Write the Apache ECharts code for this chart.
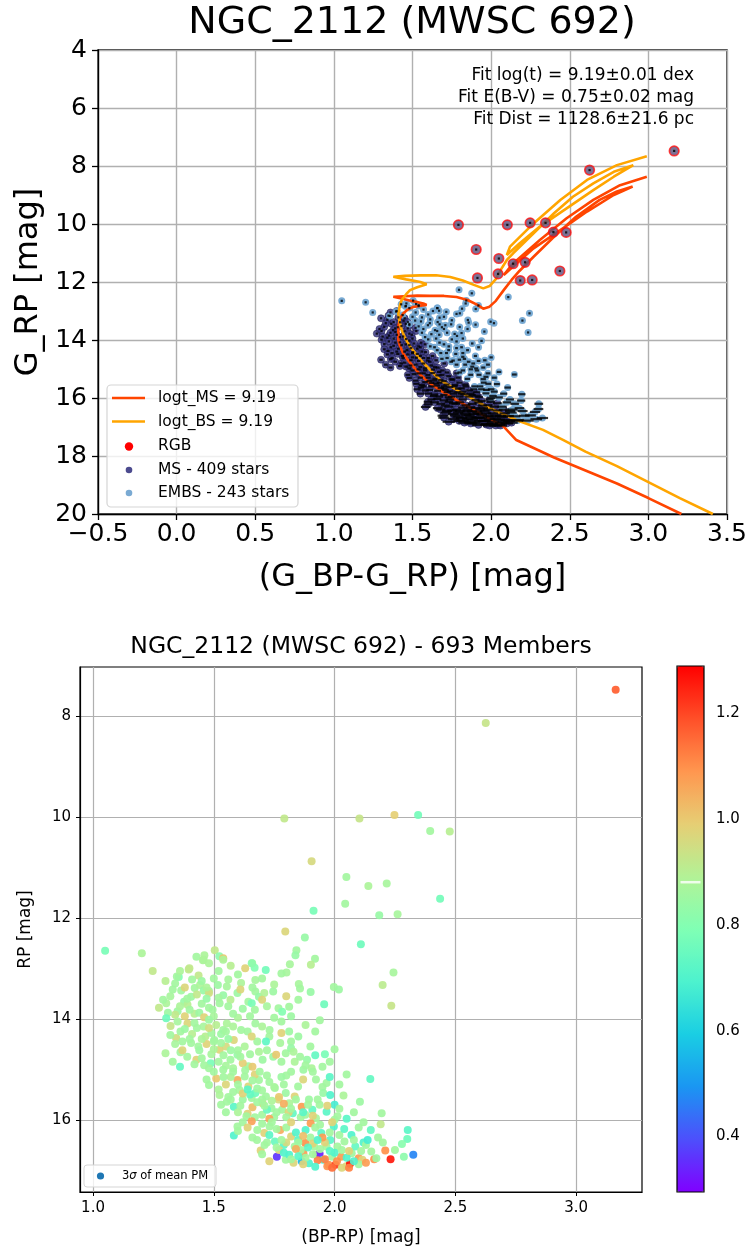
<!DOCTYPE html>
<html>
<head>
<meta charset="utf-8">
<script src="https://cdn.jsdelivr.net/npm/echarts@6/dist/echarts.min.js"></script>
<style>
  html, body { margin: 0; padding: 0; background: #fff; }
  #chart { width: 752px; height: 1255px; }
</style>
</head>
<body>
<div id="chart"></div>
<script>
// ---------------- data ----------------
const clusterName = 'NGC_2112 (MWSC 692)';
const memberCount = 693;
const fitLines = [
  'Fit log(t) = 9.19\u00b10.01 dex',
  'Fit E(B-V) = 0.75\u00b10.02 mag',
  'Fit Dist = 1128.6\u00b121.6 pc'
];
const legendLabels = ['logt_MS = 9.19', 'logt_BS = 9.19', 'RGB', 'MS - 409 stars', 'EMBS - 243 stars'];
const pmLegendLabel = '3{i|\u03c3} of mean PM';

const bottomXTicks = [1.0, 1.5, 2.0, 2.5, 3.0];
const bottomYTicks = [8, 10, 12, 14, 16];
const colorbarTicks = [0.4, 0.6, 0.8, 1.0, 1.2];
const colorbarMark = 0.881;

// single-star isochrone (colour, RP magnitude)
const isoMS = [
  [3.21,20.0],[3.0,19.45],[2.8,18.95],[2.6,18.5],[2.4,18.05],[2.26,17.7],[2.16,17.45],[2.08,16.99],
  [1.93,16.53],[1.78,16.07],[1.69,15.78],[1.61,15.49],[1.55,15.2],[1.505,14.92],[1.465,14.65],[1.44,14.46],
  [1.42,14.2],[1.41,14.0],[1.41,13.54],[1.42,13.25],[1.442,13.08],[1.47,12.95],[1.505,12.86],[1.55,12.82],
  [1.59,12.79],[1.569,12.74],[1.50,12.66],[1.43,12.57],[1.378,12.51],[1.45,12.49],[1.53,12.47],[1.61,12.48],
  [1.70,12.48],[1.78,12.52],[1.85,12.62],[1.91,12.78],[1.95,12.92],[1.99,12.85],[2.03,12.65],[2.08,12.28],
  [2.13,11.93],[2.18,11.62],[2.27,11.13],[2.40,10.44],[2.54,9.75],[2.69,9.17],[2.80,8.88],[2.90,8.71],
  [2.78,9.0],[2.61,9.57],[2.44,10.21],[2.27,10.84],[2.14,11.47],[2.08,11.76],[2.14,11.36],[2.31,10.55],
  [2.48,9.80],[2.65,9.17],[2.82,8.66],[2.99,8.37]
];
// equal-mass binary sequence
const isoBS = [
  [3.41,20.0],[3.2,19.45],[3.0,18.9],[2.8,18.35],[2.6,17.85],[2.46,17.45],[2.33,17.10],[2.16,16.76],
  [1.97,16.30],[1.82,15.84],[1.675,15.38],[1.57,14.80],[1.484,14.23],[1.45,13.9],[1.431,13.65],[1.415,13.3],
  [1.41,13.08],[1.42,12.8],[1.431,12.62],[1.46,12.42],[1.484,12.28],[1.53,12.18],[1.59,12.08],[1.55,12.0],
  [1.46,11.91],[1.378,11.82],[1.45,11.79],[1.55,11.77],[1.65,11.77],[1.74,11.83],[1.82,11.95],[1.89,12.10],
  [1.95,12.22],[1.99,12.14],[2.03,11.90],[2.06,11.59],[2.10,11.24],[2.14,11.01],[2.27,10.32],[2.40,9.63],
  [2.52,9.06],[2.65,8.60],[2.78,8.20],[2.904,7.97],[2.78,8.37],[2.65,8.83],[2.48,9.46],[2.31,10.09],
  [2.18,10.67],[2.10,11.07],[2.12,10.78],[2.27,9.98],[2.44,9.17],[2.61,8.48],[2.80,7.97],[2.99,7.66]
];

// stars: [BP-RP, RP, colour-scale value]
const rgbStars = [
  [3.164,7.48,1.17],[2.626,8.14,0.93],[1.792,10.03,0.92],[2.103,10.03,0.93],[2.248,9.96,0.99],[2.346,9.96,0.77],
  [2.396,10.28,0.86],[2.477,10.29,0.90],[1.905,10.88,0.96],[2.049,11.19,0.86],[2.140,11.37,0.88],[2.216,11.32,0.87],
  [2.437,11.62,0.77],[2.044,11.72,0.86],[1.913,11.86,0.78],[2.185,11.95,0.84],[2.261,11.93,0.87]
];
const msStars = [
  [1.347,13.16,0.86],[1.399,13.00,0.92],[1.273,13.78,0.92],[1.303,13.69,0.88],[1.365,13.44,0.86],[1.377,13.66,0.84],
  [1.391,13.72,0.90],[1.406,13.56,0.85],[1.421,13.39,0.86],[1.443,13.33,0.88],[1.458,13.44,0.84],[1.480,13.49,0.95],
  [1.495,13.82,0.86],[1.524,13.69,0.86],[1.32,13.55,0.87],[1.35,13.85,0.85],[1.42,13.90,0.90],[1.45,13.70,0.86],
  [1.38,13.95,0.98],[1.47,13.60,0.84],[1.50,13.95,0.87],[1.34,13.30,0.86],[1.43,13.52,0.92],[1.40,13.82,0.86],
  [1.36,13.05,0.88],[1.41,13.22,0.86],[1.38,13.38,0.97],[1.45,13.25,0.85],[1.33,13.42,0.86],[1.47,13.38,0.88],
  [1.30,13.25,0.90],[1.29,13.62,0.86],[1.36,13.75,0.88],[1.44,13.88,0.85],[1.48,13.78,0.86],[1.34,13.92,0.92],
  [1.39,13.60,0.86],[1.52,13.58,0.86],[1.31,13.88,0.85],[1.46,13.97,0.98],
  [1.303,13.99,0.76],[1.321,14.14,0.93],[1.344,14.38,0.95],[1.362,14.25,0.86],[1.300,14.68,0.88],[1.362,14.66,0.86],
  [1.391,14.09,0.97],[1.406,14.48,0.86],[1.428,14.81,0.98],[1.436,14.55,0.86],[1.458,14.15,0.87],[1.465,14.35,0.90],
  [1.480,14.02,0.85],[1.487,14.88,0.78],[1.502,14.42,0.86],[1.524,14.61,0.98],[1.539,14.22,0.86],[1.554,14.09,0.88],
  [1.569,14.81,0.86],[1.583,14.42,0.97],[1.598,14.71,0.84],[1.628,14.55,0.88],[1.643,14.94,0.86],[1.702,14.81,0.85],
  [1.37,14.45,0.86],[1.41,14.30,0.90],[1.44,14.62,0.85],[1.47,14.50,0.98],[1.39,14.75,0.86],[1.49,14.70,0.87],
  [1.52,14.85,0.86],[1.55,14.55,0.96],[1.46,14.92,0.86],[1.53,14.30,0.85],[1.58,14.98,0.87],[1.62,14.88,0.99],
  [1.35,14.05,0.87],[1.43,14.18,0.86],[1.51,14.12,0.90],[1.56,14.40,0.84],[1.60,14.62,0.86],[1.49,14.28,0.86],
  [1.32,14.32,0.86],[1.38,14.20,0.85],[1.45,14.40,0.88],[1.50,14.45,0.86],[1.34,14.50,0.87],[1.42,14.08,0.86],
  [1.48,14.18,0.95],[1.55,14.25,0.86],[1.58,14.15,0.88],[1.40,14.40,0.86],[1.53,14.48,0.86],
  [1.33,14.85,0.86],[1.37,14.62,0.97],[1.42,14.90,0.86],[1.45,14.78,0.86],[1.50,14.60,0.88],[1.54,14.72,0.86],
  [1.57,14.62,0.85],[1.61,14.75,0.86],[1.48,14.98,0.86],[1.55,14.93,0.87],[1.65,14.70,0.86],[1.66,14.95,1.00],
  [1.36,14.95,0.74],
  [1.480,15.31,0.86],[1.510,15.18,1.00],[1.524,15.51,0.88],[1.539,15.01,0.86],[1.554,15.64,0.86],[1.583,15.74,0.72],
  [1.598,15.21,1.05],[1.606,15.41,0.87],[1.628,15.14,0.86],[1.643,15.34,0.97],[1.657,15.57,0.86],[1.672,15.47,0.76],
  [1.687,15.21,0.86],[1.702,15.67,0.98],[1.716,15.54,0.86],[1.739,15.77,0.85],[1.753,15.37,0.86],[1.768,15.60,0.96],
  [1.783,15.80,0.86],[1.798,15.47,0.85],[1.812,15.67,0.88],[1.827,15.87,0.74],[1.835,15.54,0.98],[1.864,15.74,1.08],
  [1.879,15.90,0.86],[1.908,15.80,0.74],[1.923,15.97,0.87],[1.50,15.05,0.86],[1.55,15.30,0.97],[1.58,15.45,0.86],
  [1.62,15.60,0.85],[1.66,15.75,1.02],[1.70,15.90,0.86],[1.63,15.02,0.86],[1.68,15.38,0.85],[1.72,15.80,0.75],
  [1.75,15.95,0.86],[1.77,15.55,1.00],[1.60,15.85,0.88],[1.53,15.70,0.86],[1.67,15.10,0.98],[1.73,15.25,0.86],
  [1.81,15.85,0.97],[1.86,15.95,0.86],[1.78,15.15,0.85],[1.65,15.50,0.74],[1.70,15.60,0.86],[1.57,15.15,0.88],
  [1.47,15.20,0.86],[1.52,15.40,0.88],[1.56,15.55,0.86],[1.60,15.30,0.86],[1.62,15.48,0.98],[1.66,15.22,0.86],
  [1.70,15.42,0.86],[1.72,15.12,0.86],[1.58,15.05,0.86],[1.75,15.35,0.87],[1.64,15.40,0.72],[1.54,15.15,0.86],
  [1.69,15.05,0.86],[1.79,15.30,0.86],
  [1.57,15.60,0.86],[1.61,15.72,0.86],[1.64,15.88,0.98],[1.68,15.65,0.86],[1.71,15.72,0.86],[1.74,15.62,0.88],
  [1.76,15.85,0.86],[1.79,15.68,1.05],[1.82,15.78,0.86],[1.84,15.60,0.86],[1.87,15.85,0.72],[1.89,15.70,0.86],
  [1.91,15.92,0.98],[1.67,15.95,0.86],[1.73,15.98,1.06],[1.80,15.95,0.86],[1.55,15.85,0.86],
  [1.583,16.31,0.70],[1.598,16.13,0.86],[1.635,15.93,0.86],[1.657,16.03,1.07],[1.679,16.40,0.86],[1.694,16.61,0.98],
  [1.709,16.26,0.98],[1.731,16.13,0.86],[1.753,16.43,0.75],[1.761,16.73,0.36],[1.775,16.20,1.05],[1.790,16.50,0.72],
  [1.798,16.79,0.86],[1.812,16.69,0.70],[1.820,16.33,0.98],[1.835,16.53,0.86],[1.849,16.40,0.72],[1.864,16.82,0.55],
  [1.871,16.66,1.08],[1.879,16.46,1.10],[1.894,16.86,0.70],[1.901,16.07,1.08],[1.916,16.53,0.86],[1.923,16.69,0.98],
  [1.938,16.67,0.33],[1.945,16.26,0.72],[1.953,16.79,0.68],[1.967,16.53,0.86],[1.975,16.89,1.10],[1.982,16.40,0.72],
  [1.990,16.73,0.86],[1.997,16.13,0.70],[2.004,16.89,1.22],[2.012,16.53,0.86],[2.027,16.73,1.08],[2.041,16.43,0.86],
  [2.049,16.92,0.98],[2.064,16.87,1.27],[2.071,16.66,0.86],[2.086,16.53,0.74],[2.100,16.76,1.08],[2.115,16.79,0.98],
  [1.62,16.05,0.86],[1.68,16.20,0.86],[1.72,16.45,0.86],[1.77,16.60,0.98],[1.80,16.15,0.86],[1.84,16.25,0.70],
  [1.86,16.60,0.86],[1.90,16.35,0.86],[1.93,16.80,1.12],[1.96,16.45,0.98],[2.00,16.65,0.70],[2.02,16.30,0.86],
  [2.05,16.75,0.70],[1.88,16.75,0.86],[1.83,16.85,0.97],[1.97,16.92,1.10],[1.92,16.15,0.86],[1.74,16.05,0.86],
  [2.08,16.40,0.86],[2.10,16.88,0.86],[1.99,16.05,0.98],[1.80,16.45,0.96],[2.03,16.95,0.97],
  [1.60,16.22,0.86],[1.64,16.15,0.98],[1.66,16.35,0.86],[1.70,16.08,0.86],[1.73,16.30,0.72],[1.76,16.18,0.86],
  [1.78,16.40,0.86],[1.82,16.05,0.98],[1.85,16.45,0.86],[1.88,16.20,0.70],[1.91,16.47,0.98],[1.94,16.10,0.86],
  [1.95,16.35,1.08],[1.98,16.25,0.86],[2.04,16.18,0.72],[1.87,16.32,1.02],[1.71,16.50,0.86],[1.93,16.40,0.70],
  [1.70,16.68,0.86],[1.73,16.82,0.98],[1.76,16.55,0.86],[1.79,16.65,0.70],[1.82,16.78,0.86],[1.84,16.58,1.05],
  [1.87,16.88,0.98],[1.89,16.55,0.72],[1.91,16.68,0.86],[1.94,16.58,0.86],[1.96,16.78,1.12],[1.98,16.62,0.72],
  [2.01,16.82,1.10],[2.03,16.60,0.86],[2.06,16.62,0.98],[2.08,16.82,0.70],[2.11,16.62,0.86],[2.13,16.85,1.08],
  [1.99,16.95,1.15],[1.92,16.93,0.70],[2.06,16.95,1.12],[1.85,16.72,0.72]
];
const embsStars = [
  [1.796,12.27,0.97],[1.877,12.39,0.84],[2.109,12.52,0.76],[1.050,12.65,0.78],[1.202,12.70,0.88],[1.842,12.64,0.86],
  [1.838,12.74,0.84],[1.919,12.81,0.86],[1.504,12.64,0.92],[1.428,12.77,0.86],[1.461,12.74,0.88],[1.455,12.84,0.88],
  [1.523,12.76,0.82],[1.539,12.80,1.00],[1.659,12.90,0.86],[1.669,12.99,0.80],[1.715,13.03,0.77],[1.815,12.92,0.87],
  [1.902,12.93,0.90],[1.801,13.08,0.87],[1.247,13.05,0.92],[1.396,13.02,0.92],[1.355,13.17,0.80],[1.437,13.14,0.92],
  [2.244,13.08,0.87],[2.199,13.33,0.91],[2.235,13.74,0.93],[1.957,13.71,0.76],[1.997,13.37,0.86],[2.018,13.42,0.85],
  [1.852,13.31,0.87],[1.857,13.40,0.86],[1.901,13.47,0.84],[1.939,14.03,0.86],[2.000,14.60,0.86],[1.960,14.70,0.78],
  [2.148,15.19,0.74],[2.105,15.64,0.85],[2.195,15.87,0.86],[2.191,16.09,0.92],[2.303,16.20,0.72],[2.301,16.38,0.76],
  [2.279,16.48,0.81],[2.287,16.73,0.82],[2.326,16.69,0.47],[2.232,16.78,1.26],[2.210,16.61,1.10],[2.164,16.78,1.10],
  [2.173,16.76,0.85],
  [1.458,12.83,0.88],[1.539,12.83,0.88],[1.657,12.90,0.82],[1.672,13.23,0.87],[1.517,13.33,0.85],[1.539,13.53,0.84],
  [1.554,13.36,0.87],[1.569,13.62,0.90],[1.598,13.49,0.85],[1.613,13.29,0.88],[1.643,13.66,0.86],[1.657,13.69,0.78],
  [1.672,13.46,0.86],[1.687,13.56,0.84],[1.709,13.49,0.89],[1.746,13.46,0.85],[1.768,13.79,0.86],[1.783,13.86,0.80],
  [1.812,13.76,0.86],
  [1.48,12.90,0.88],[1.52,13.05,0.86],[1.57,12.95,0.90],[1.60,13.12,0.86],[1.63,13.00,0.98],[1.50,13.20,0.86],
  [1.56,13.22,0.87],[1.70,13.20,0.86],[1.75,13.32,0.88],[1.66,13.38,0.86],[1.48,13.45,0.86],[1.61,13.42,0.97],
  [1.78,13.10,0.86],
  [1.56,13.75,0.86],[1.60,13.98,0.88],[1.67,13.82,0.86],[1.70,13.62,0.97],[1.75,13.98,0.86],[1.82,13.95,0.85],
  [1.85,13.62,0.86],[1.88,14.12,0.88],[1.64,14.25,0.86],[1.73,14.35,0.86],[1.78,14.28,0.98],[1.82,14.45,0.86],
  [1.68,14.45,0.86],[1.92,14.25,0.86],[1.58,13.90,0.86],
  [1.613,14.22,0.86],[1.657,14.35,0.97],[1.672,14.09,0.86],[1.687,14.65,0.88],[1.716,14.45,0.73],[1.731,14.22,0.86],
  [1.746,14.75,0.85],[1.758,14.71,1.00],[1.775,14.48,0.87],[1.798,14.68,0.86],[1.812,14.25,0.85],[1.820,14.58,0.84],
  [1.835,14.85,0.88],[1.857,14.75,0.86],[1.871,15.01,0.85],[1.886,14.81,0.84],[1.905,14.98,0.88],
  [1.72,14.62,0.86],[1.78,14.85,0.86],[1.83,14.65,0.88],[1.88,14.92,0.86],[1.92,14.72,0.74],[1.82,15.05,0.86],
  [1.87,15.20,0.97],[1.91,15.05,0.86],[1.95,15.35,0.86],[1.80,15.12,0.86],[2.02,15.30,0.86],[1.98,14.85,0.86],
  [1.849,15.34,0.86],[1.894,15.60,0.85],[1.938,15.70,0.86],[1.953,15.47,0.84],[1.967,15.84,0.72],[1.982,15.51,0.70],
  [2.000,15.70,0.68],[2.012,15.93,0.86],[2.037,15.52,0.88],[1.923,15.20,0.86],[1.967,15.27,0.86],
  [1.93,15.60,0.86],[1.97,15.72,0.98],[2.02,15.78,0.86],[2.05,15.98,0.72],[2.10,16.15,0.86],[2.07,16.30,0.70],
  [2.00,16.00,0.86],[2.18,16.35,0.86],[2.12,16.45,0.70],
  [2.130,16.50,0.86],[2.137,16.40,0.68],[2.152,16.63,0.86],
  [1.65,13.95,0.86],[1.72,13.75,0.87],[1.78,14.05,0.86],[1.85,14.35,0.85],[1.90,14.55,0.86],[1.70,14.15,0.88],
  [1.95,14.95,0.86],[1.62,13.80,0.85],[1.80,13.55,0.97],[2.05,15.10,0.86],[1.98,15.15,0.72],[2.08,15.85,0.86],
  [2.12,16.05,0.86],[2.15,16.20,0.74],[2.20,16.45,0.86],[2.25,16.60,0.86]
];

// ---------------- styling ----------------
const FONT = 'DejaVu Sans';
const GRID_COLOR = '#b0b0b0';
const C_MS_LINE = '#ff4500';
const C_BS_LINE = '#ffa500';
const C_RGB = '#ff1010';
const C_MS = '#3b3984';
const C_EMBS = '#72a6d2';
const RAINBOW = ['#8000ff','#4d4ffc','#1a96f2','#1acee3','#4df2ce','#80ffb4','#b3f296','#e6ce74','#ff964f','#ff4f28','#ff0000'];

const allStars = rgbStars.concat(embsStars, msStars);
const fmtMinus = v => (v < 0 ? '\u2212' : '') + Math.abs(v).toFixed(1);

const chart = echarts.init(document.getElementById('chart'), null, { renderer: 'canvas' });

const txt = (text, x, y, size, align, extra) => ({
  type: 'text', x: x, y: y, z: 100,
  style: Object.assign({ text: text, fontSize: size, fontFamily: FONT, fill: '#000',
    align: align || 'left', verticalAlign: 'middle' }, extra || {})
});

const option = {
  backgroundColor: '#fff',
  animation: false,
  textStyle: { fontFamily: FONT, color: '#000' },
  grid: [
    { left: 98, top: 50, width: 629, height: 464, show: true, borderColor: '#000', borderWidth: 1.3, backgroundColor: 'rgba(0,0,0,0)' },
    { left: 80, top: 667, width: 562, height: 525, show: true, borderColor: '#000', borderWidth: 1.2, backgroundColor: 'rgba(0,0,0,0)' },
    { left: 677, top: 666, width: 27, height: 526, show: false }
  ],
  xAxis: [
    {
      gridIndex: 0, type: 'value', min: -0.5, max: 3.5, interval: 0.5,
      name: '(G_BP-G_RP) [mag]', nameLocation: 'middle', nameGap: 48,
      nameTextStyle: { fontSize: 32, fontFamily: FONT, color: '#000' },
      axisLine: { show: true, onZero: false, lineStyle: { color: '#000', width: 1.3 } },
      axisTick: { show: true, length: 6, lineStyle: { color: '#000', width: 1.3 } },
      axisLabel: { fontSize: 25, color: '#000', margin: 8, formatter: fmtMinus, showMinLabel: true, showMaxLabel: true },
      splitLine: { show: true, lineStyle: { color: GRID_COLOR, width: 1.4 } }
    },
    {
      gridIndex: 1, type: 'value', min: 0.946, max: 3.273,
      name: '(BP-RP) [mag]', nameLocation: 'middle', nameGap: 37,
      nameTextStyle: { fontSize: 17, fontFamily: FONT, color: '#000' },
      axisLine: { show: true, onZero: false, lineStyle: { color: '#000', width: 1.2 } },
      axisTick: { show: true, length: 4, customValues: bottomXTicks, lineStyle: { color: '#000' } },
      axisLabel: { fontSize: 15, color: '#000', margin: 9, customValues: bottomXTicks, formatter: v => v.toFixed(1) },
      splitLine: { show: true, lineStyle: { color: GRID_COLOR, width: 1.2 } }
    },
    { gridIndex: 2, type: 'value', min: 0, max: 1, show: false }
  ],
  yAxis: [
    {
      gridIndex: 0, type: 'value', min: 4, max: 20, interval: 2, inverse: true,
      name: 'G_RP [mag]', nameLocation: 'middle', nameGap: 52, nameRotate: 90,
      nameTextStyle: { fontSize: 32, fontFamily: FONT, color: '#000' },
      axisLine: { show: true, onZero: false, lineStyle: { color: '#000', width: 1.3 } },
      axisTick: { show: true, length: 6, lineStyle: { color: '#000', width: 1.3 } },
      axisLabel: { fontSize: 25, color: '#000', margin: 11, showMinLabel: true, showMaxLabel: true },
      splitLine: { show: true, lineStyle: { color: GRID_COLOR, width: 1.4 } }
    },
    {
      gridIndex: 1, type: 'value', min: 7.03, max: 17.43, inverse: true,
      name: 'RP [mag]', nameLocation: 'middle', nameGap: 46, nameRotate: 90,
      nameTextStyle: { fontSize: 17, fontFamily: FONT, color: '#000' },
      axisLine: { show: true, onZero: false, lineStyle: { color: '#000', width: 1.2 } },
      axisTick: { show: true, length: 4, customValues: bottomYTicks, lineStyle: { color: '#000' } },
      axisLabel: { fontSize: 15, color: '#000', margin: 9, customValues: bottomYTicks, formatter: v => String(v) },
      splitLine: { show: true, lineStyle: { color: GRID_COLOR, width: 1.2 } }
    },
    {
      gridIndex: 2, type: 'value', min: 0.295, max: 1.29, position: 'right',
      axisLine: { show: false },
      axisTick: { show: true, length: 6, customValues: colorbarTicks, lineStyle: { color: '#000', width: 1.2 } },
      axisLabel: { fontSize: 15, color: '#000', margin: 12, customValues: colorbarTicks, formatter: v => v.toFixed(1) },
      splitLine: { show: false }
    }
  ],
  visualMap: {
    type: 'continuous', min: 0.295, max: 1.29, dimension: 2, seriesIndex: 6,
    left: 677, top: 666, itemWidth: 27, itemHeight: 526, padding: 0,
    calculable: false, hoverLink: false, text: null, showLabel: false,
    inRange: { color: RAINBOW }
  },
  series: [
    {
      name: legendLabels[0], type: 'line', xAxisIndex: 0, yAxisIndex: 0, data: isoMS,
      showSymbol: false, symbol: 'none', z: 5, silent: true,
      lineStyle: { color: C_MS_LINE, width: 2.6 }
    },
    {
      name: legendLabels[1], type: 'line', xAxisIndex: 0, yAxisIndex: 0, data: isoBS,
      showSymbol: false, symbol: 'none', z: 5, silent: true,
      lineStyle: { color: C_BS_LINE, width: 2.6 }
    },
    {
      name: legendLabels[3], type: 'scatter', xAxisIndex: 0, yAxisIndex: 0, data: msStars,
      symbolSize: 7, z: 2, silent: true,
      itemStyle: { color: C_MS, opacity: 0.85, borderColor: '#1e1c4e', borderWidth: 0.6 }
    },
    {
      name: legendLabels[4], type: 'scatter', xAxisIndex: 0, yAxisIndex: 0, data: embsStars,
      symbolSize: 7, z: 3, silent: true,
      itemStyle: { color: C_EMBS, opacity: 0.95 }
    },
    {
      name: legendLabels[2], type: 'scatter', xAxisIndex: 0, yAxisIndex: 0, data: rgbStars,
      symbolSize: 9.5, z: 6, silent: true,
      itemStyle: { color: '#5d4e7a', borderColor: C_RGB, borderWidth: 1.7 }
    },
    {
      // photometric colour errors drawn as short horizontal bars
      name: 'errors', type: 'scatter', xAxisIndex: 0, yAxisIndex: 0,
      data: msStars.concat(embsStars, rgbStars),
      symbol: 'rect', z: 7, silent: true,
      symbolSize: d => [2.2 + Math.pow(Math.max(0, d[1] - 13.5), 2) * 0.9, 2.2],
      itemStyle: { color: '#000' }
    },
    {
      name: 'members', type: 'scatter', xAxisIndex: 1, yAxisIndex: 1, data: allStars,
      symbolSize: 8, z: 2, silent: true,
      itemStyle: { opacity: 0.92 }
    },
    {
      name: 'mark', type: 'scatter', xAxisIndex: 2, yAxisIndex: 2,
      data: [[0.5, colorbarMark]], symbol: 'rect', symbolSize: [20, 2.5], z: 20, silent: true,
      itemStyle: { color: '#fff' }
    }
  ],
  graphic: [
    txt(clusterName, 412, 23, 38, 'center'),
    txt(clusterName + ' - ' + memberCount + ' Members', 361, 647, 23.5, 'center'),
    txt(fitLines[0], 694, 76, 17, 'right'),
    txt(fitLines[1], 694, 98, 17, 'right'),
    txt(fitLines[2], 694, 120, 17, 'right'),
    // legend of the colour-magnitude diagram
    { type: 'rect', z: 90, shape: { x: 107, y: 385, width: 191, height: 122, r: 4 },
      style: { fill: 'rgba(255,255,255,0.8)', stroke: '#d5d5d5', lineWidth: 1.2 } },
    { type: 'line', z: 100, shape: { x1: 112, y1: 398, x2: 145, y2: 398 }, style: { stroke: C_MS_LINE, lineWidth: 2.6 } },
    { type: 'line', z: 100, shape: { x1: 112, y1: 421.5, x2: 145, y2: 421.5 }, style: { stroke: C_BS_LINE, lineWidth: 2.6 } },
    { type: 'circle', z: 100, shape: { cx: 129, cy: 446.5, r: 4.2 }, style: { fill: '#ff0000' } },
    { type: 'circle', z: 100, shape: { cx: 129, cy: 470, r: 3.3 }, style: { fill: '#4b4a8e' } },
    { type: 'circle', z: 100, shape: { cx: 129, cy: 493, r: 3.3 }, style: { fill: '#7aaad3' } },
    txt(legendLabels[0], 158, 398, 15.5),
    txt(legendLabels[1], 158, 421.5, 15.5),
    txt(legendLabels[2], 158, 446, 15.5),
    txt(legendLabels[3], 158, 469.5, 15.5),
    txt(legendLabels[4], 158, 493, 15.5),
    // legend of the membership panel
    { type: 'rect', z: 90, shape: { x: 84, y: 1165, width: 132, height: 22, r: 3 },
      style: { fill: 'rgba(255,255,255,0.8)', stroke: '#d5d5d5', lineWidth: 1 } },
    { type: 'circle', z: 100, shape: { cx: 100.5, cy: 1176, r: 3.6 }, style: { fill: '#1f77b4' } },
    txt(pmLegendLabel, 122, 1176, 11.5, 'left', { rich: { i: { fontStyle: 'italic', fontSize: 11.5, fontFamily: FONT } } }),
    // colour bar frame
    { type: 'rect', z: 100, shape: { x: 677, y: 666, width: 27, height: 526 },
      style: { fill: 'none', stroke: '#000', lineWidth: 1.2 } }
  ]
};

chart.setOption(option);
</script>
</body>
</html>
